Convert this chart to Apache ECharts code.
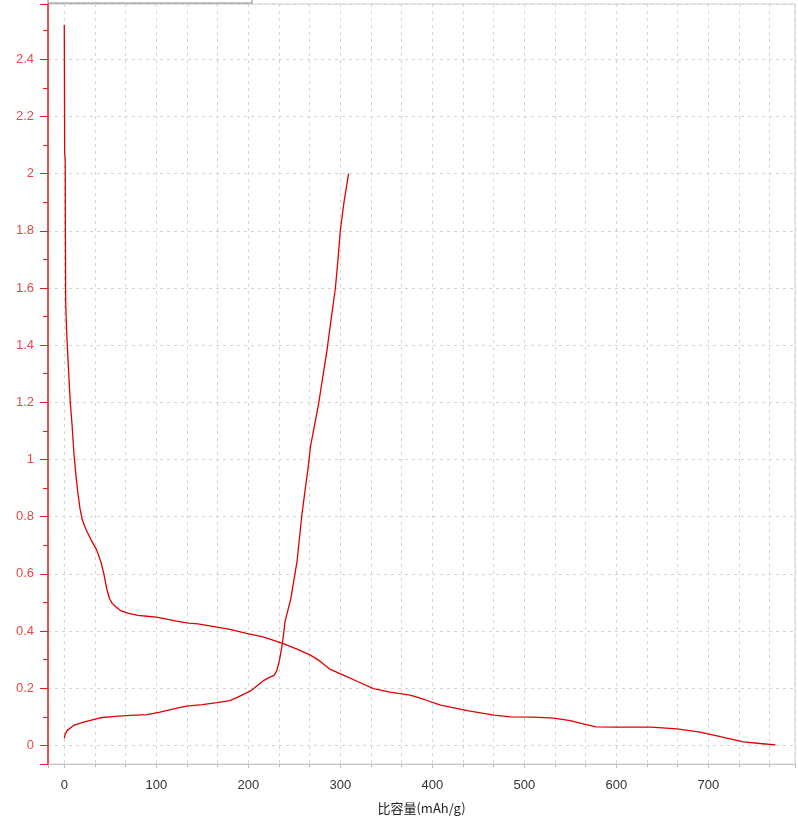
<!DOCTYPE html>
<html>
<head>
<meta charset="utf-8">
<script src="https://cdn.jsdelivr.net/npm/echarts@6/dist/echarts.min.js"></script>
<style>
  html, body { margin: 0; padding: 0; background: #fff; }
  #chart { width: 798px; height: 825px; }
</style>
</head>
<body>
<div id="chart"></div>
<script>
  // 放电曲线 [比容量, 电压]
  var dischargeData = [
    [0, 2.52], [0.2, 2.30], [0.4, 2.07], [1, 2.05], [1.2, 1.8], [1.5, 1.55], [2.5, 1.45],
    [4.5, 1.32], [6.5, 1.2], [8.5, 1.12], [10.5, 1.02], [12.5, 0.95], [14.5, 0.89], [17, 0.83],
    [19.5, 0.79], [23, 0.76], [29, 0.72], [35, 0.685], [40, 0.64], [43, 0.60], [46, 0.55],
    [49, 0.515], [52, 0.497], [56, 0.485], [61, 0.472], [70, 0.462], [80, 0.455], [90, 0.452],
    [100, 0.449], [110, 0.443], [122, 0.435], [135, 0.428], [145, 0.425], [155, 0.42],
    [166, 0.414], [180, 0.406], [198, 0.392], [217, 0.379], [238, 0.356], [253, 0.337],
    [268, 0.315], [278, 0.295], [288, 0.268], [304, 0.245], [320, 0.222], [336, 0.199],
    [354, 0.187], [376, 0.176], [392, 0.16], [409, 0.141], [438, 0.122], [467, 0.106],
    [485, 0.1], [510, 0.099], [532, 0.096], [550, 0.087], [565, 0.075], [578, 0.065],
    [600, 0.064], [638, 0.064], [666, 0.058], [691, 0.047], [713, 0.031], [738, 0.013],
    [756, 0.007], [773, 0.002]
  ];

  // 充电曲线
  var chargeData = [
    [0, 0.025], [1, 0.04], [3, 0.052], [10, 0.07], [21, 0.082], [39, 0.097], [55, 0.102],
    [72, 0.105], [90, 0.108], [104, 0.117], [119, 0.128], [133, 0.138], [150, 0.143],
    [166, 0.15], [180, 0.157], [188, 0.168], [202, 0.19], [212, 0.215], [217, 0.228],
    [223, 0.238], [228, 0.245], [231, 0.262], [234, 0.3], [237, 0.355], [240, 0.435],
    [246, 0.51], [253, 0.645], [258, 0.8], [262, 0.9], [265, 0.97], [267.5, 1.044],
    [272, 1.12], [276.4, 1.195], [281, 1.29], [285.5, 1.382], [290, 1.49], [294.6, 1.598],
    [297.5, 1.7], [300, 1.8], [304, 1.9], [309, 2.0]
  ];

  var xName = '比容量(mAh/g)';
  var xRange = [-17.7, 794.2];
  var yRange = [-0.0647, 2.593];

  var myChart = echarts.init(document.getElementById('chart'));

  myChart.setOption({
    animation: false,
    color: ['#e00000', '#e00000'],
    grid: {
      left: 48,
      right: 3,
      top: 4,
      bottom: 61,
      show: true,
      borderColor: '#d0d0d0',
      borderWidth: 1
    },
    // 顶部被截掉的图例框
    graphic: [{
      type: 'rect',
      shape: { x: 48, y: -6, width: 204, height: 9 },
      style: { fill: '#fff', stroke: '#888', lineWidth: 1 }
    }],
    xAxis: {
      type: 'value',
      min: xRange[0],
      max: xRange[1],
      splitNumber: 8,
      name: xName,
      nameLocation: 'middle',
      nameGap: 38,
      nameTextStyle: { color: '#222', fontSize: 13, fontFamily: 'Noto Sans CJK SC' },
      axisLine: { show: true, onZero: false, lineStyle: { color: '#c8c8c8' } },
      axisTick: { show: true, length: 4, lineStyle: { color: '#bbb' } },
      minorTick: { show: true, splitNumber: 3, length: 3, lineStyle: { color: '#bbb' } },
      axisLabel: {
        color: '#333', fontSize: 13, margin: 15, fontFamily: 'Liberation Sans',
        showMinLabel: false, showMaxLabel: false
      },
      splitLine: { show: true, lineStyle: { color: '#d4d4d4', type: [3, 4] } },
      minorSplitLine: { show: true, lineStyle: { color: '#d4d4d4', type: [3, 4] } }
    },
    yAxis: {
      type: 'value',
      min: yRange[0],
      max: yRange[1],
      splitNumber: 13,
      axisLine: { show: true, onZero: false, lineStyle: { color: '#e82020', width: 1.5 } },
      axisTick: { show: true, length: 8, lineStyle: { color: '#e82020' } },
      minorTick: { show: true, splitNumber: 2, length: 5, lineStyle: { color: '#e82020' } },
      axisLabel: {
        color: '#e84848', fontSize: 13, margin: 14, fontFamily: 'Liberation Sans',
        showMinLabel: false, showMaxLabel: false
      },
      splitLine: { show: true, lineStyle: { color: '#d4d4d4', type: [3, 4] } }
    },
    series: [
      {
        name: '放电',
        type: 'line',
        data: dischargeData,
        showSymbol: false,
        lineStyle: { width: 1.3 }
      },
      {
        name: '充电',
        type: 'line',
        data: chargeData,
        showSymbol: false,
        lineStyle: { width: 1.3 }
      }
    ]
  });

  window.addEventListener('resize', function () { myChart.resize() });
</script>
</body>
</html>
